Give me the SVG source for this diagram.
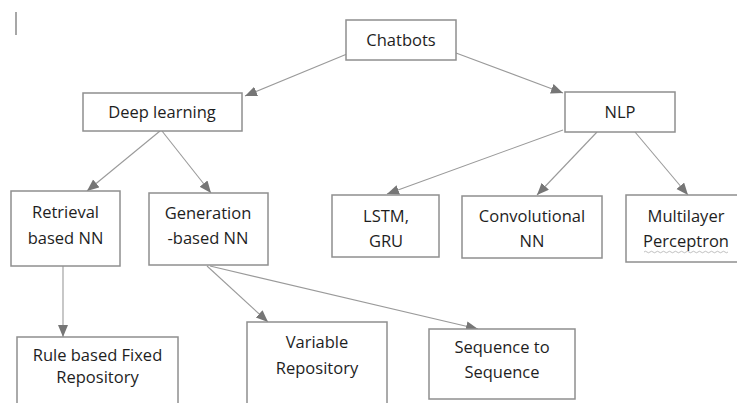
<svg xmlns="http://www.w3.org/2000/svg" width="737" height="403" viewBox="0 0 737 403">
<defs>
<style>
.box{fill:#fff;stroke:#8f8f8f;stroke-width:1.5}
.t{font-family:"Open Sans","Liberation Sans",sans-serif;font-size:16.5px;fill:#1e1e1e;text-anchor:middle}
.c{stroke:#9a9a9a;stroke-width:1.1;fill:none;marker-end:url(#ah)}
</style>
<marker id="ah" markerUnits="userSpaceOnUse" markerWidth="13" markerHeight="11" refX="12" refY="5" orient="auto">
<path d="M0,0 L12,5 L0,10 z" fill="#767676"/>
</marker>
</defs>
<rect width="737" height="403" fill="#fff"/>
<line x1="16" y1="12" x2="16" y2="35" stroke="#8a8a8a" stroke-width="1.5"/>
<g id="connectors">
<line class="c" x1="347" y1="54" x2="245" y2="96"/>
<line class="c" x1="456" y1="53" x2="563" y2="93"/>
<line class="c" x1="160" y1="131" x2="87" y2="191"/>
<line class="c" x1="162" y1="131" x2="211" y2="193"/>
<line class="c" x1="563" y1="130" x2="387" y2="194"/>
<line class="c" x1="597" y1="132" x2="537" y2="195"/>
<line class="c" x1="635" y1="132" x2="688" y2="195"/>
<line class="c" x1="63" y1="266" x2="63" y2="337"/>
<line class="c" x1="207" y1="266" x2="268" y2="322"/>
<line class="c" x1="210" y1="266" x2="478" y2="329"/>
</g>
<g id="chatbots"><rect class="box" x="346" y="20" width="110" height="40"/><text class="t" x="401" y="46">Chatbots</text></g>
<g id="deep-learning"><rect class="box" x="83" y="93" width="159" height="38"/><text class="t" x="162" y="118">Deep learning</text></g>
<g id="nlp"><rect class="box" x="565" y="92" width="110" height="40"/><text class="t" x="620" y="118">NLP</text></g>
<g id="retrieval"><rect class="box" x="11" y="191" width="109" height="75"/><text class="t" x="65.5" y="218">Retrieval</text><text class="t" x="65.5" y="244">based NN</text></g>
<g id="generation"><rect class="box" x="149" y="193" width="119" height="72"/><text class="t" x="208" y="219">Generation</text><text class="t" x="208" y="244">-based NN</text></g>
<g id="lstm"><rect class="box" x="332" y="195" width="107" height="62"/><text class="t" x="386" y="222">LSTM,</text><text class="t" x="386" y="247">GRU</text></g>
<g id="convolutional"><rect class="box" x="462" y="196" width="140" height="62"/><text class="t" x="532" y="222">Convolutional</text><text class="t" x="532" y="247">NN</text></g>
<g id="multilayer"><rect class="box" x="626" y="195" width="112" height="67"/><text class="t" x="686" y="222">Multilayer</text><text class="t" x="686" y="247">Perceptron</text>
<path d="M644,252 q1.5,-1.5 3,0 t3,0 t3,0 t3,0 t3,0 t3,0 t3,0 t3,0 t3,0 t3,0 t3,0 t3,0 t3,0 t3,0 t3,0 t3,0 t3,0 t3,0 t3,0 t3,0 t3,0 t3,0 t3,0 t3,0 t3,0 t3,0 t3,0 t3,0" fill="none" stroke="#b0b0b0" stroke-width="0.8"/></g>
<g id="rule-based"><rect class="box" x="17" y="337" width="161" height="80"/><text class="t" x="97.5" y="361">Rule based Fixed</text><text class="t" x="97.5" y="383">Repository</text></g>
<g id="variable"><rect class="box" x="247" y="322" width="140" height="95"/><text class="t" x="317" y="348">Variable</text><text class="t" x="317" y="374">Repository</text></g>
<g id="sequence"><rect class="box" x="429" y="329" width="146" height="70"/><text class="t" x="502" y="353">Sequence to</text><text class="t" x="502" y="378">Sequence</text></g>
</svg>
